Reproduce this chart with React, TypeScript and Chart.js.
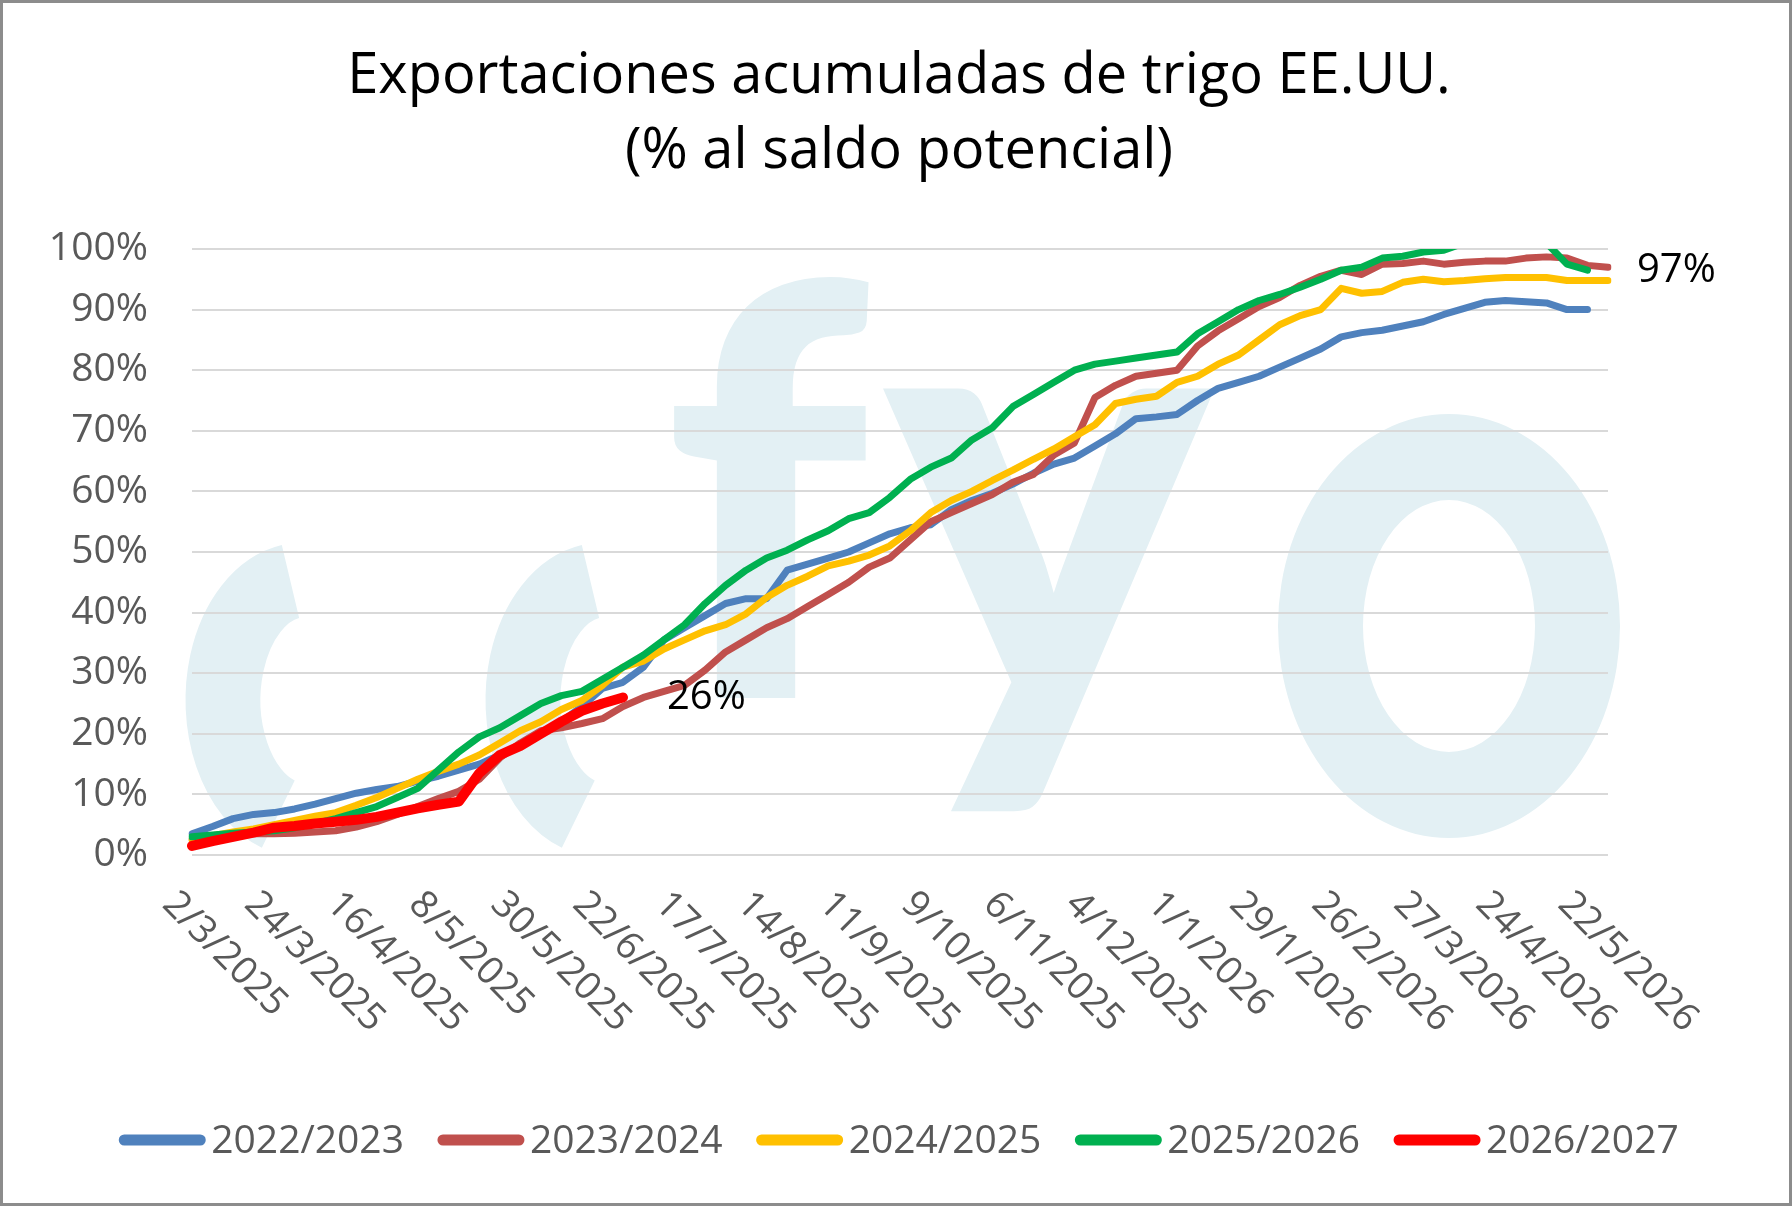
import React, { useEffect, useRef } from "react";
import { Chart, registerables } from "chart.js";
Chart.register(...registerables);

const tickDates = ["2/3/2025","24/3/2025","16/4/2025","8/5/2025","30/5/2025","22/6/2025","17/7/2025","14/8/2025","11/9/2025","9/10/2025","6/11/2025","4/12/2025","1/1/2026","29/1/2026","26/2/2026","27/3/2026","24/4/2026","22/5/2026"];
const nPoints = 70;

const s2223 = [3.5,4.7,6,6.7,7,7.6,8.4,9.3,10.2,10.8,11.3,12.2,13,14,15,16.5,18,20,22,24.5,27.5,28.5,31,35.5,37.5,39.5,41.5,42.3,42.3,47,48,49,50,51.5,53,54,54.5,57,58.5,59.7,61.2,63,64.5,65.5,67.5,69.5,72,72.3,72.7,75,77,78,79,80.5,82,83.5,85.5,86.2,86.6,87.3,88,89.2,90.2,91.2,91.5,91.3,91.1,90,90];
const s2324 = [2.5,3,3.3,3.5,3.5,3.6,3.8,4,4.6,5.5,6.7,8,9.3,10.5,12.5,16,18.5,20.5,21,21.7,22.5,24.5,26,27,28,30.5,33.5,35.5,37.5,39,41,43,45,47.5,49,52,55,56.5,58,59.5,61.5,62.8,66,68,75.5,77.5,79,79.5,80,84,86.5,88.5,90.5,92,94,95.5,96.5,95.8,97.5,97.6,98,97.5,97.8,98,98,98.5,98.7,98.5,97.3,97];
const s2425 = [2.5,3.2,3.8,4.3,5,5.7,6.4,7,8.2,9.5,11,12.5,13.8,15,16.5,18.5,20.5,22,24,25.5,28,31,32,34,35.5,37,38,39.8,42.5,44.5,46,47.7,48.5,49.5,51,53.5,56.5,58.5,60,61.8,63.5,65.3,67,69,71,74.5,75.2,75.7,78,79,81,82.5,85,87.5,89,90,93.5,92.7,93,94.5,95,94.6,94.8,95.1,95.3,95.3,95.3,94.8,94.8,94.8];
const s2526 = [3,3.3,3.6,3.8,4,4.5,5.2,6,7,8,9.5,11,14,17,19.5,21,23,25,26.3,27,29,31,33,35.5,38,41.5,44.5,47,49,50.3,52,53.5,55.5,56.5,59,62,64,65.5,68.5,70.5,74,76,78,80,81,81.5,82,82.5,83,86,88,90,91.5,92.5,93.7,95,96.5,97,98.5,98.8,99.5,99.8,101,102,102,102,101,97.5,96.5];
const s2627 = [1.5,2.3,3,3.7,4.5,4.8,5.2,5.5,5.8,6.3,7,7.7,8.3,8.8,13.5,16.5,18,20,22,23.8,25,26];

const seriesNames = ["2022/2023","2023/2024","2024/2025","2025/2026","2026/2027"];
const seriesColors = ["#4f81bd","#c0504d","#ffc000","#00b050","#ff0000"];
const seriesData = [s2223, s2324, s2425, s2526, s2627];
const yTicks = [0,10,20,30,40,50,60,70,80,90,100];

const FONT = "'Open Sans', sans-serif";
const GRAY = "#595959";
const WM = "#e3f0f4";

export default function App() {
  const ref = useRef<HTMLCanvasElement>(null);
  useEffect(() => {
    const labels = Array.from({ length: nPoints }, (_, i) => (i % 4 === 0 && tickDates[i / 4]) ? tickDates[i / 4] : "");
    const watermark = {
      id: "wm",
      beforeDraw(chart: any) {
        const ctx = chart.ctx;
        ctx.save();
        ctx.fillStyle = WM;
        ctx.strokeStyle = WM;
        // o ring
        ctx.beginPath();
        ctx.ellipse(1446, 623, 171, 212, 0, 0, Math.PI * 2);
        ctx.ellipse(1446, 623, 86, 126, 0, 0, Math.PI * 2, true);
        ctx.fill("evenodd");
        // parentheses-like arcs
        ctx.lineWidth = 75;
        ctx.lineCap = "butt";
        [[300, 697], [600, 697]].forEach(([cx, cy]) => {
          ctx.beginPath();
          ctx.ellipse(cx, cy, 80, 120, 0, Math.PI * 0.6, Math.PI * 1.45);
          ctx.stroke();
        });
        ctx.font = `900 570px Lato, sans-serif`;
        ctx.textBaseline = "alphabetic";
        ctx.textAlign = "left";
        ctx.fillText("f", 660, 695);
        ctx.font = `900 620px Lato, sans-serif`;
        ctx.fillText("y", 880, 705);
        ctx.restore();
      },
    };
    const custom = {
      id: "custom",
      afterDraw(chart: any) {
        const ctx = chart.ctx;
        const xs = chart.scales.x, ys = chart.scales.y;
        const area = chart.chartArea;
        ctx.save();
        ctx.fillStyle = "#000";
        ctx.font = `56px ${FONT}`;
        ctx.textAlign = "center";
        ctx.textBaseline = "middle";
        ctx.fillText("Exportaciones acumuladas de trigo EE.UU.", 896, 74);
        ctx.fillText("(% al saldo potencial)", 896, 149);
        ctx.font = `38px ${FONT}`;
        ctx.fillStyle = GRAY;
        ctx.textAlign = "left";
        ctx.textBaseline = "top";
        labels.forEach((l, i) => {
          if (!l) return;
          const x = xs.getPixelForValue(i);
          ctx.save();
          ctx.translate(x - 10, area.bottom + 30);
          ctx.rotate(Math.PI / 4);
          ctx.fillText(l, 0, 0);
          ctx.restore();
        });
        ctx.fillStyle = "#000";
        ctx.font = `40px ${FONT}`;
        ctx.textBaseline = "middle";
        const r = s2627.length - 1;
        ctx.fillText("26%", xs.getPixelForValue(r) + 44, ys.getPixelForValue(s2627[r]));
        const b = s2324.length - 1;
        ctx.fillText("97%", xs.getPixelForValue(b) + 29, ys.getPixelForValue(s2324[b]) + 3);
        ctx.font = `39px ${FONT}`;
        const lineLen = 86, gap1 = 6, gap2 = 34;
        const widths = seriesNames.map((n) => ctx.measureText(n).width);
        const total = widths.reduce((a, w) => a + lineLen + gap1 + w, 0) + gap2 * (seriesNames.length - 1);
        let x = 896 - total / 2;
        const ly = 1137;
        seriesNames.forEach((n, i) => {
          ctx.strokeStyle = seriesColors[i];
          ctx.lineWidth = 11;
          ctx.lineCap = "round";
          ctx.beginPath();
          ctx.moveTo(x + 5, ly);
          ctx.lineTo(x + lineLen - 5, ly);
          ctx.stroke();
          ctx.fillStyle = GRAY;
          ctx.textAlign = "left";
          ctx.fillText(n, x + lineLen + gap1, ly + 2);
          x += lineLen + gap1 + widths[i] + gap2;
        });
        ctx.restore();
      },
    };
    const chart = new Chart(ref.current!, {
      type: "line",
      data: {
        labels,
        datasets: seriesData.map((d, i) => ({
          label: seriesNames[i],
          data: d,
          borderColor: seriesColors[i],
          backgroundColor: seriesColors[i],
          borderWidth: i === 4 ? 10 : 7,
          pointRadius: 0,
          tension: 0,
          borderCapStyle: "round",
          borderJoinStyle: "round",
          order: 4 - i,
        })),
      },
      options: {
        animation: false,
        responsive: false,
        layout: { padding: { top: 246, right: 181, bottom: 340, left: 0 } },
        plugins: { legend: { display: false }, tooltip: { enabled: false } },
        scales: {
          x: {
            offset: false,
            grid: { display: false },
            border: { display: false },
            ticks: { display: false },
          },
          y: {
            min: 0,
            max: 100,
            afterFit: (s: any) => { s.width = 189; },
            afterBuildTicks: (s: any) => { s.ticks = yTicks.map((v) => ({ value: v })); },
            grid: { color: "#d9d9d9", lineWidth: 2, drawTicks: false },
            border: { display: false },
            ticks: {
              padding: 44,
              color: GRAY,
              font: { family: "'Open Sans', sans-serif", size: 39 },
              callback: (v: any) => v + "%",
            },
          },
        },
      } as any,
      plugins: [watermark, custom],
    });
    return () => chart.destroy();
  }, []);
  return (
    <div style={{ position: "fixed", left: 0, top: 0, width: 1792, height: 1206, background: "#fff", boxSizing: "border-box", border: "3px solid #8c8c8c" }}>
      <canvas ref={ref} width={1786} height={1200} style={{ display: "block" }} />
    </div>
  );
}
